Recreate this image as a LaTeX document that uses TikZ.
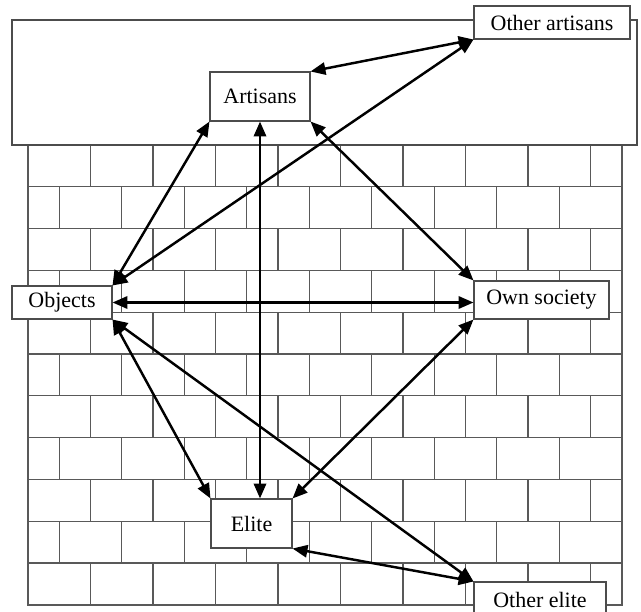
\documentclass[tikz,border=0pt]{standalone}
\usepackage{fontspec}
\setmainfont{Liberation Serif}
\usetikzlibrary{arrows.meta}
\begin{document}
\begin{tikzpicture}[
  x=0.02cm, y=-0.02cm,
  every node/.style={font=\fontsize{12.5}{14}\selectfont},
  brick/.style={draw=black!65, line width=0.6pt},
  box/.style={rectangle, draw=black!70, line width=0.6pt, fill=white, inner sep=1pt},
  link/.style={line width=1.4pt, {Triangle[length=8.5pt,width=7pt]}-{Triangle[length=8.5pt,width=7pt]}}
]
\clip (0,0) rectangle (641,611);
% wall
\draw[brick] (28,145) rectangle (622,605);
\foreach \r in {1,...,10}
  \draw[brick] (28,{145+41.8*\r}) -- (622,{145+41.8*\r});
\foreach \r in {0,2,...,10}
  \foreach \x in {90.5,153,...,590.5}
    \draw[brick] (\x,{145+41.8*\r}) -- ++(0,41.8);
\foreach \r in {1,3,...,9}
  \foreach \x in {59.25,121.75,...,559.25}
    \draw[brick] (\x,{145+41.8*\r}) -- ++(0,41.8);
% roof
\draw[box] (12,20) rectangle (637,145);
\node[box, minimum width=2cm, minimum height=0.98cm] (artisans) at (260,96.5) {Artisans};
\node[box, minimum width=3.12cm, minimum height=0.66cm] (otherart) at (552,22.5) {Other artisans};
\node[box, minimum width=2cm, minimum height=0.66cm] (objects) at (62,302.5) {Objects};
\node[box, minimum width=2.7cm, minimum height=0.76cm] (society) at (541.5,300) {Own society};
\node[box, minimum width=1.62cm, minimum height=0.98cm] (elite) at (251.5,523.5) {Elite};
\node[box, minimum width=2.64cm, minimum height=0.72cm] (otherelite) at (540,600) {Other elite};
\draw[link] (artisans.north east) -- (otherart.south west);
\draw[link] (objects.north east) -- (otherart.south west);
\draw[link] (objects.north east) -- (artisans.south west);
\draw[link] (artisans.south) -- (artisans.south |- elite.north);
\draw[link] (artisans.south east) -- (society.north west);
\draw[link] (objects.east) -- (objects.east -| society.west);
\draw[link] (objects.south east) -- (elite.north west);
\draw[link] (objects.south east) -- (otherelite.north west);
\draw[link] (society.south west) -- (elite.north east);
\draw[link] (elite.south east) -- (otherelite.north west);
\end{tikzpicture}
\end{document}
